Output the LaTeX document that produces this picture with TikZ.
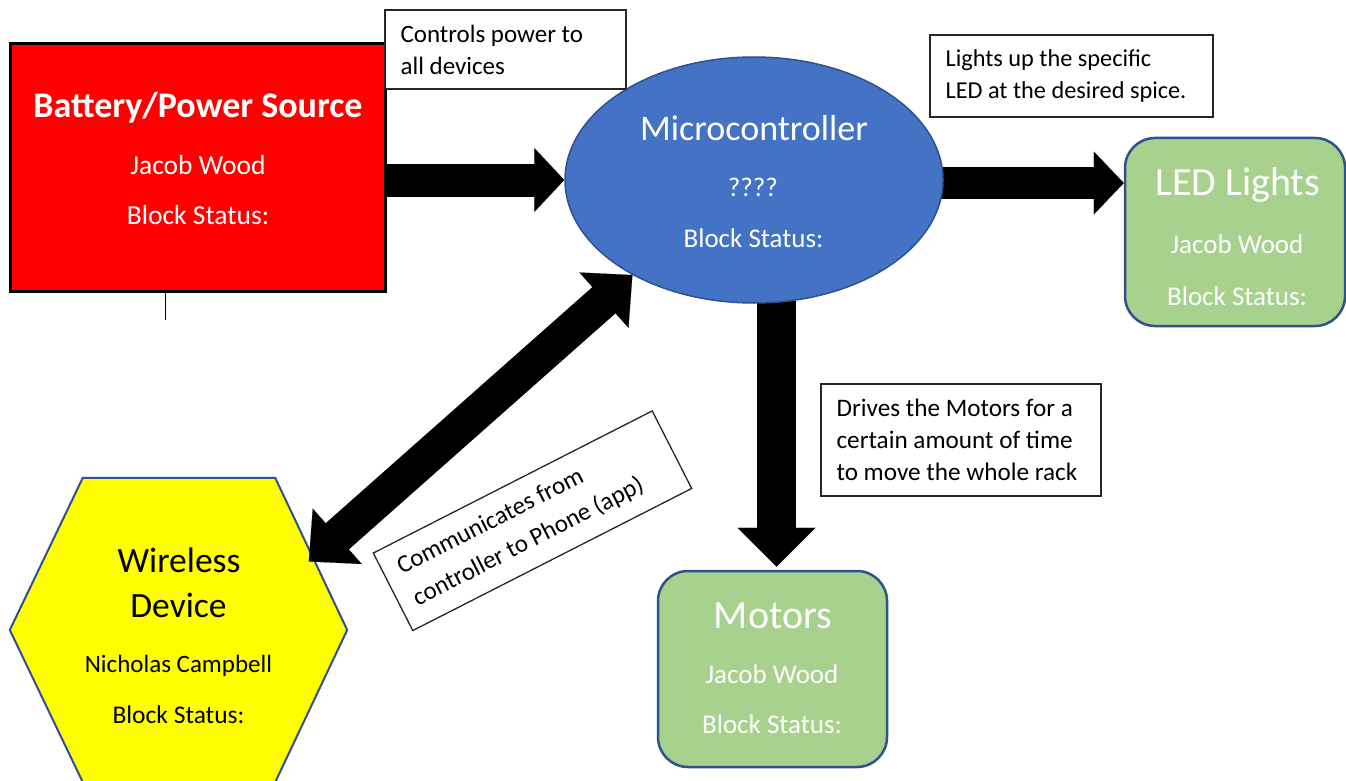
\documentclass[tikz,border=0pt]{standalone}
\usepackage{fontspec}
\setmainfont{Carlito}
\usetikzlibrary{shapes.geometric,arrows.meta,calc,backgrounds}
\definecolor{mcblue}{HTML}{4472C4}
\definecolor{edgeblue}{HTML}{2F528F}
\definecolor{ledgreen}{HTML}{A9D18E}
\definecolor{hexyellow}{HTML}{FFFF00}
\newcommand{\myfs}[1]{\fontsize{#1pt}{#1pt}\selectfont}
\begin{document}
\begin{tikzpicture}[x=1pt,y=-1pt,
  txtw/.style={anchor=base,inner sep=0pt,text=white},
  txtb/.style={anchor=base,inner sep=0pt,text=black},
  labbox/.style={draw=black!85,line width=1.3pt,fill=white,inner sep=0pt},
  labtxt/.style 2 args={anchor=west,align=left,inner sep=0pt,font=\fontsize{#1pt}{#2pt}\selectfont},
  greenbox/.style={rounded corners=30pt,draw=edgeblue,line width=2.5pt,fill=ledgreen,inner sep=0pt},
  thintip/.style={line width=0.1pt,draw=black,fill=black}
]
\useasboundingbox (0,0) rectangle (1346,781);

% blocks
\node[draw=black,line width=3pt,fill=red,minimum width=375pt,minimum height=247pt,inner sep=0pt] (bat) at (197.5,167.5) {};
\node[ellipse,draw=edgeblue,line width=1.5pt,fill=mcblue,minimum width=378pt,minimum height=246pt,inner sep=0pt] (mc) at (754,180) {};
\node[greenbox,minimum width=220pt,minimum height=188pt] (led) at (1235,232) {};
\node[greenbox,minimum width=229pt,minimum height=196pt] (mot) at (772.5,669) {};
\node[minimum width=337pt,minimum height=304pt,inner sep=0pt] (wd) at (178.5,630) {};
\coordinate (hexNW) at ($(wd.north west)+(73,0)$);
\coordinate (hexNE) at ($(wd.north east)+(-72,0)$);
\coordinate (hexSE) at ($(wd.south east)+(-72,0)$);
\coordinate (hexSW) at ($(wd.south west)+(73,0)$);
\draw[draw=edgeblue,line width=2pt,fill=hexyellow] (wd.west) -- (hexNW) -- (hexNE) -- (wd.east) -- (hexSE) -- (hexSW) -- cycle;
\coordinate (wdtip) at ($(hexNE)!0.55!(wd.east)+(-6,0)$);

% small tick below battery
\coordinate (tick) at (165,320);
\draw[line width=1pt] (tick |- bat.south) -- (tick);

% arrows
\begin{scope}[on background layer]
\fill[white] (0,0) rectangle (1346,781);
% battery -> microcontroller
\draw[thintip,-{Triangle[width=64pt,length=30pt]}] (bat.center |- mc.west) -- (mc.west);
\draw[line width=33pt,shorten >=28pt] (bat.center |- mc.west) -- (mc.west);
% microcontroller -> LED
\draw[thintip,-{Triangle[width=63pt,length=30pt]}] ($(mc.center)+(0,3)$) -- ($(mc.center -| led.west)+(0,3)$);
\draw[line width=32pt,shorten >=28pt] ($(mc.center)+(0,3)$) -- ($(mc.center -| led.west)+(0,3)$);
% microcontroller -> motors
\draw[thintip,-{Triangle[width=78pt,length=39pt]}] ($(mc.center -| mot.north)+(4,0)$) -- ($(mot.north)+(4,-3)$);
\draw[line width=39pt,shorten >=37pt] ($(mc.center -| mot.north)+(4,0)$) -- ($(mot.north)+(4,-3)$);
\end{scope}
% microcontroller <-> wireless
\draw[thintip,{Triangle[width=74pt,length=38pt]}-{Triangle[width=74pt,length=38pt]}] (mc.218) -- (wdtip);
\draw[line width=35pt,shorten >=36pt,shorten <=36pt] (mc.218) -- (wdtip);

% block texts
\node[txtw,font=\bfseries\myfs{36}] (bat1) at (198,118) {Battery/Power Source};
\node[txtw,font=\myfs{27.5}] (bat2) at (198,174) {Jacob Wood};
\node[txtw,font=\myfs{27.5}] (bat3) at (198,224) {Block Status:};

\node[txtw,font=\myfs{36}] (mc1) at (754,140) {Microcontroller};
\node[txtw,font=\myfs{27}] (mc2) at (753,196) {????};
\node[txtw,font=\myfs{27}] (mc3) at (753.5,247) {Block Status:};

\node[txtw,font=\myfs{40}] (led1) at (1237.5,195) {LED Lights};
\node[txtw,font=\myfs{27}] (led2) at (1237,253) {Jacob Wood};
\node[txtw,font=\myfs{27}] (led3) at (1237,305) {Block Status:};

\node[txtw,font=\myfs{40}] (mot1) at (773,628) {Motors};
\node[txtw,font=\myfs{27}] (mot2) at (772,683) {Jacob Wood};
\node[txtw,font=\myfs{27}] (mot3) at (772,733) {Block Status:};

\node[txtb,font=\myfs{35.5}] (wd1) at (179,572) {Wireless};
\node[txtb,font=\myfs{35.5}] (wd2) at (178.5,617) {Device};
\node[txtb,font=\myfs{25}] (wd3) at (178.5,672) {Nicholas Campbell};
\node[txtb,font=\myfs{25.5}] (wd4) at (178.5,723) {Block Status:};

% labels
\node[labbox,minimum width=241pt,minimum height=79pt] (lab1) at (505.5,49.5) {};
\node[labtxt={25}{32}] (lab1t) at ($(lab1.west)+(16,0)$) {Controls power to\\all devices};
\node[labbox,minimum width=283pt,minimum height=82pt] (lab2) at (1071.5,76) {};
\node[labtxt={24.3}{32}] (lab2t) at ($(lab2.west)+(16,0)$) {Lights up the specific\\LED at the desired spice.};
\node[labbox,minimum width=280pt,minimum height=112pt] (lab3) at (961,440) {};
\node[labtxt={25.2}{32}] (lab3t) at ($(lab3.west)+(16,0)$) {Drives the Motors for a\\certain amount of time\\to move the whole rack};
\node[labbox,minimum width=313pt,minimum height=87pt,rotate=27] (lab4) at (532.5,520.75) {};
\node[labtxt={25}{35},rotate=27] (lab4t) at ($(lab4.west)+(14.3,-7.3)$) {Communicates from\\controller to Phone (app)};
\end{tikzpicture}
\end{document}
